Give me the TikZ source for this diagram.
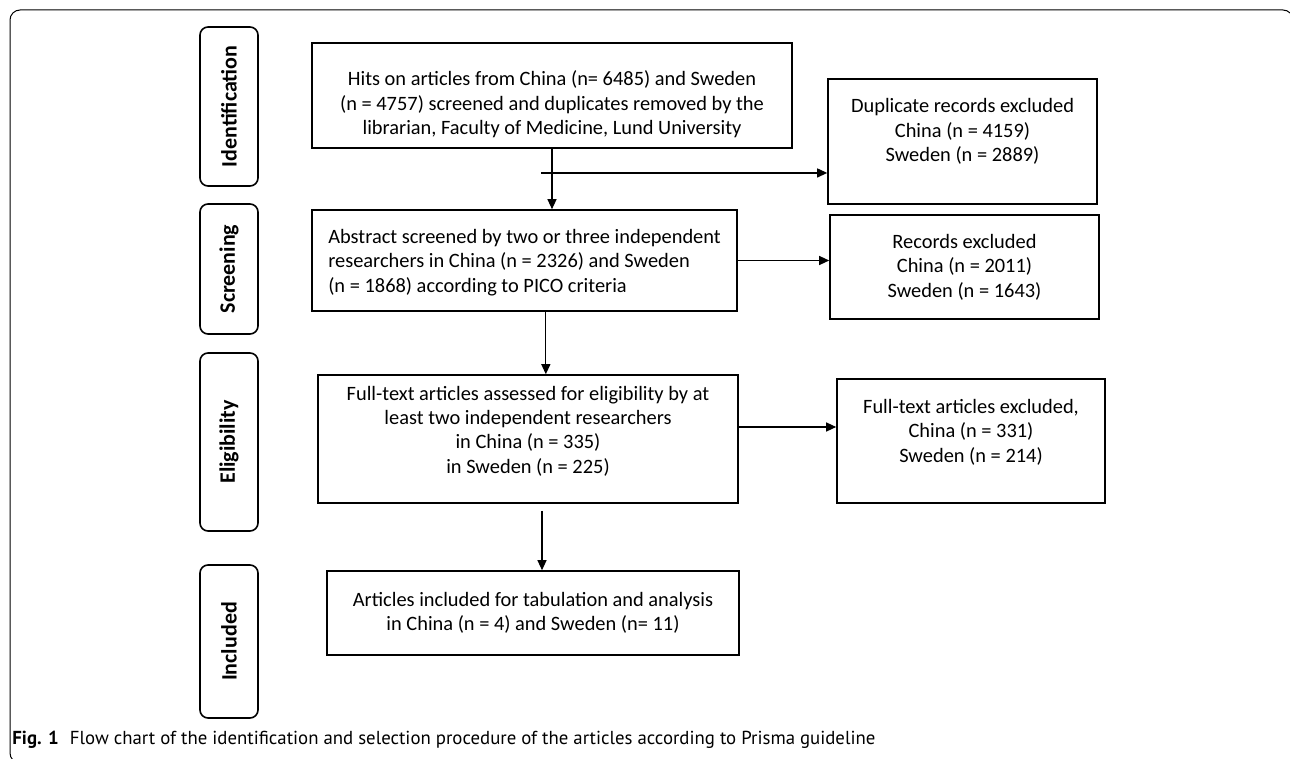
\documentclass[tikz,border=0pt]{standalone}
\usepackage{fontspec}
\setmainfont{Carlito}
\newfontfamily\capfont{PT Sans}
\usepackage{tikz}
\usetikzlibrary{arrows.meta,calc}

\begin{document}
\begin{tikzpicture}[
                        x=0.5pt,y=-0.5pt,
                        every node/.style={
                                font=\fontsize{10.2}{12.2}\selectfont,
                            },
                        flowbox/.style={
                                draw,
                                line width=0.8pt,
                                inner sep=0pt,
                            },
                        boxtext/.style={
                                align=center,
                                inner sep=0pt,
                            },
                        stagebox/.style={
                                draw,
                                line width=0.8pt,
                                rounded corners=4pt,
                                rotate=90,
                                inner sep=0pt,
                                minimum height=29pt,
                                font=\fontsize{11}{13}\selectfont\bfseries,
                            },
                        flow/.style={
                                line width=0.6pt,
                                -{Triangle[length=5pt,width=4.5pt]},
                            },
                    ]

                    \useasboundingbox (0,0) rectangle (1290,759);
                    \clip (0,0) rectangle (1290,759);

                    \draw[line width=0.5pt,rounded corners=5pt] (10,10) rectangle (1293,763);

                    \node[stagebox,minimum width=79.5pt] (ident) at (229,106.5) {Identification};
                    \node[stagebox,minimum width=65pt] (screen) at (229,269) {Screening};
                    \node[stagebox,minimum width=89pt] (elig) at (229,442) {Eligibility};
                    \node[stagebox,minimum width=76.5pt] (incl) at (229,641.5) {Included};

                    \node[flowbox,minimum width=240pt,minimum height=52.5pt] (hits) at (552,95.5) {};
                    \node[flowbox,minimum width=134.5pt,minimum height=62.5pt] (dupl) at (962.5,141.5) {};
                    \node[flowbox,minimum width=212.5pt,minimum height=50.5pt] (abstr) at (524.5,260.5) {};
                    \node[flowbox,minimum width=134.5pt,minimum height=52pt] (recs) at (964.5,267) {};
                    \node[flowbox,minimum width=210pt,minimum height=64pt] (full) at (528,439) {};
                    \node[flowbox,minimum width=134pt,minimum height=62pt] (ftex) at (971,441) {};
                    \node[flowbox,minimum width=206pt,minimum height=42pt] (tab) at (533,613) {};

                    \node[boxtext] (hitstxt) at ($(hits.center)+(0,9)$)
                    {Hits on articles from China (n= 6485) and Sweden\\(n = 4757) screened and duplicates removed by the\\librarian, Faculty of Medicine, Lund University};
                    \node[boxtext] (dupltxt) at ($(dupl.center)+(0,-10)$)
                    {Duplicate records excluded\\China (n = 4159)\\Sweden (n = 2889)};
                    \node[boxtext,align=left] (abstrtxt) at ($(abstr.center)+(0,2)$)
                    {Abstract screened by two or three independent\\researchers in China (n = 2326) and Sweden\\(n = 1868) according to PICO criteria};
                    \node[boxtext] (recstxt) at (recs.center)
                    {Records excluded\\China (n = 2011)\\Sweden (n = 1643)};
                    \node[boxtext] (fulltxt) at ($(full.center)+(0,-8)$)
                    {Full-text articles assessed for eligibility by at\\least two independent researchers\\in China (n = 335)\\in Sweden (n = 225)};
                    \node[boxtext] (ftextxt) at ($(ftex.center)+(0,-9)$)
                    {Full-text articles excluded,\\China (n = 331)\\Sweden (n = 214)};
                    \node[boxtext] (tabtxt) at (tab.center)
                    {Articles included for tabulation and analysis\\in China (n = 4) and Sweden (n= 11)};

                    \coordinate (split) at ($(hits.south)!0.4!(abstr.north)$);
                    \coordinate (a3) at ($(abstr.south west)!0.55!(abstr.south east)$);
                    \coordinate (f3) at ($(full.east)+(0,-12)$);
                    \coordinate (f4) at ($(full.south)+(14,7)$);

                    \draw[flow] (hits.south) -- (hits.south |- abstr.north);
                    \draw[flow] (split) -- (split -| dupl.west);
                    \draw[flow] (abstr.east) -- (abstr.east -| recs.west);
                    \draw[flow] (a3) -- (a3 |- full.north);
                    \draw[flow] (f3) -- (f3 -| ftex.west);
                    \draw[flow] (f4) -- (f4 |- tab.north);

                    \node[anchor=west,inner sep=0pt,font=\capfont\fontsize{9.4}{11}\selectfont] (cap) at (12,740)
                    {\textbf{Fig. 1}\hspace{0.6em}Flow chart of the identification and selection procedure of the articles according to Prisma guideline};
                \end{tikzpicture}
\end{document}
